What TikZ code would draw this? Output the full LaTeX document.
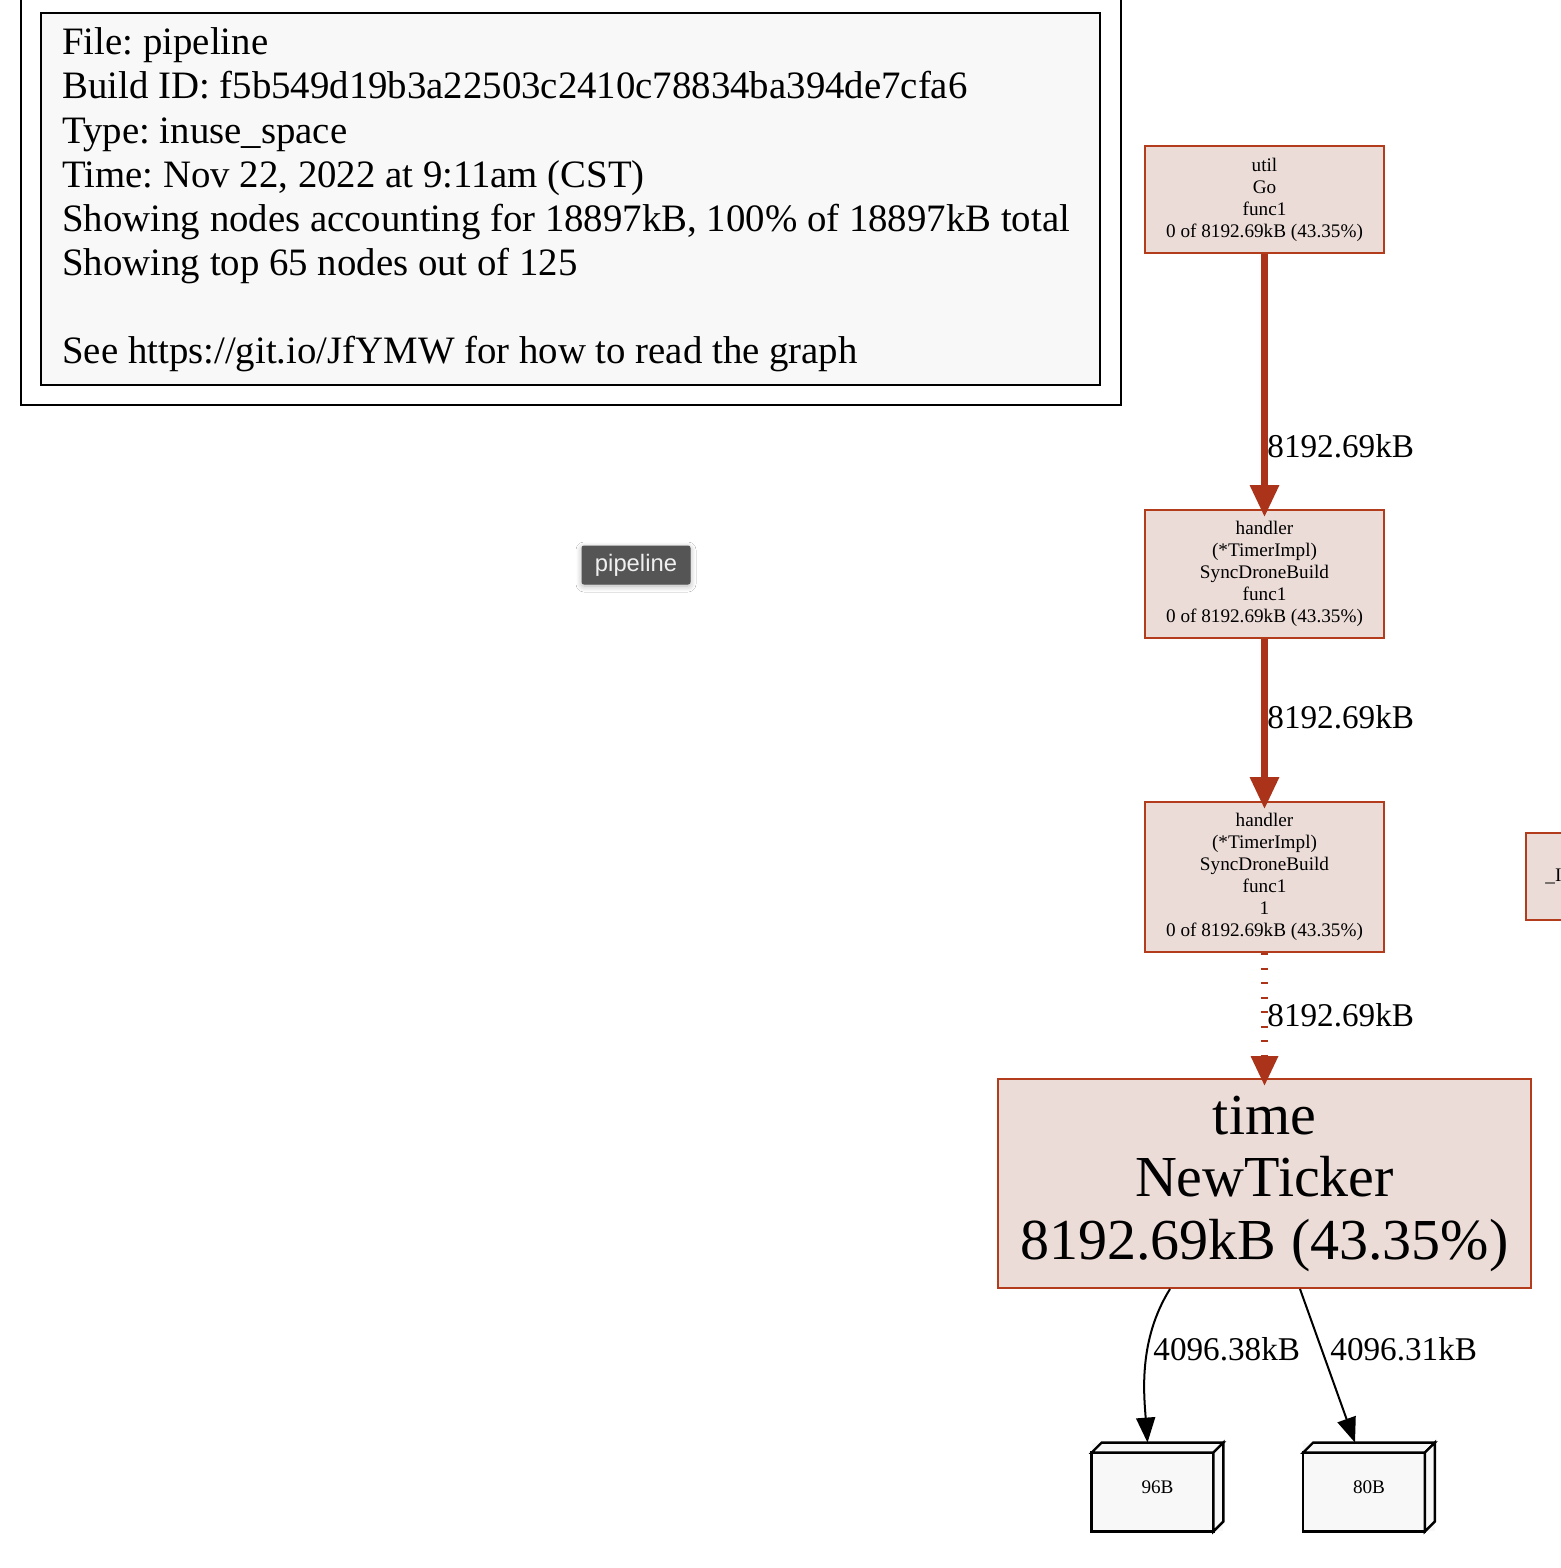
\documentclass[tikz,border=0pt]{standalone}
\usepackage{fontspec}
\setmainfont{Liberation Serif}
\newfontfamily\badgefont{Liberation Sans}
\usetikzlibrary{arrows.meta,calc,shadows.blur}
\frenchspacing
\definecolor{nodefill}{HTML}{EBDCD7}
\definecolor{nodeline}{HTML}{B23C1C}
\definecolor{edgered}{HTML}{AB331A}
\definecolor{boxfill}{HTML}{F8F8F8}
\definecolor{badgegray}{HTML}{555555}
\tikzset{
  fnode/.style={draw=nodeline, fill=nodefill, line width=1pt, inner sep=0pt,
    minimum width=119.5pt, align=center, font=\fontsize{9.6}{11}\selectfont},
  bignode/.style={draw=nodeline, fill=nodefill, line width=1pt, inner sep=0pt,
    minimum width=266.5pt, minimum height=104.5pt, align=center,
    font=\fontsize{29}{31.25}\selectfont},
  thickedge/.style={draw=edgered, line width=3.2pt, shorten >=-4pt,
    -{Triangle[length=16pt,width=14pt]}},
  dotedge/.style={draw=edgered, line width=3.2pt, dash pattern=on 1pt off 6.25pt,
    shorten >=-4pt, -{Triangle[length=15pt,width=13pt]}},
  thinedge/.style={draw=black, line width=1pt,
    -{Triangle[length=12.5pt,width=9.5pt]}},
  elabel/.style={anchor=west, inner sep=0pt, font=\fontsize{16.6}{18}\selectfont},
  legline/.style={anchor=base west, inner sep=0pt, font=\fontsize{19.4}{22}\selectfont},
  boxnode/.style={inner sep=0pt, minimum width=65.5pt, minimum height=44pt,
    font=\fontsize{9.6}{11}\selectfont},
  facestyle/.style={draw=black, fill=boxfill, line width=1.2pt, line join=miter},
}
\newcommand\drawthreedbox[1]{%
  \fill[boxfill] (#1.south west) rectangle (#1.north east);
  \draw[facestyle] (#1.south west) rectangle ($(#1.north east)+(-10,10)$);
  \draw[facestyle] ($(#1.north west)+(0,10)$) -- ($(#1.north west)+(10,0)$)
     -- (#1.north east) -- ($(#1.north east)+(-10,10)$) -- cycle;
  \draw[facestyle] ($(#1.north east)+(-10,10)$) -- (#1.north east)
     -- ($(#1.south east)+(0,-10)$) -- ($(#1.south east)+(-10,0)$) -- cycle;
}
\begin{document}
\begin{tikzpicture}[x=0.5pt,y=-0.5pt]
\useasboundingbox (0,0) rectangle (1560,1568);
\fill[white] (0,0) rectangle (1560,1568);

% legend
\draw[line width=1pt] (21,-10) rectangle (1121,405);
\draw[line width=1pt, fill=boxfill] (41,13) rectangle (1100,385);
\node[legline] (leg1) at (62,55) {File: pipeline};
\node[legline] (leg2) at (62,99) {Build ID: f5b549d19b3a22503c2410c78834ba394de7cfa6};
\node[legline] (leg3) at (62,143) {Type: inuse\_space};
\node[legline] (leg4) at (62,187) {Time: Nov 22, 2022 at 9:11am (CST)};
\node[legline] (leg5) at (62,231) {Showing nodes accounting for 18897kB, 100\% of 18897kB total};
\node[legline] (leg6) at (62,275) {Showing top 65 nodes out of 125};
\node[legline] (leg7) at (62,363) {See https://git.io/JfYMW for how to read the graph};

% badge
\node[fill=badgegray, draw=badgegray, line width=0.5pt, rounded corners=1pt,
  minimum width=54pt, minimum height=19pt, inner sep=0pt,
  text=white!94!black, font=\badgefont\fontsize{11.9}{13}\selectfont,
  blur shadow={shadow xshift=0pt, shadow yshift=-1pt, shadow blur steps=8,
    shadow blur radius=3pt, shadow opacity=30}]
  (badge) at (636,565) {pipeline};

% function nodes
\node[fnode, minimum height=53.5pt] (util) at (1264.5,199.5)
  {util\\Go\\func1\\0 of 8192.69kB (43.35\%)};
\node[fnode, minimum height=64pt] (h1) at (1264.5,574)
  {handler\\(*TimerImpl)\\SyncDroneBuild\\func1\\0 of 8192.69kB (43.35\%)};
\node[fnode, minimum height=75pt] (h2) at (1264.5,877)
  {handler\\(*TimerImpl)\\SyncDroneBuild\\func1\\1\\0 of 8192.69kB (43.35\%)};
\node[bignode] (time) at (1264.5,1183.5)
  {time\\NewTicker\\8192.69kB (43.35\%)};

% partial node at the right edge
\draw[draw=nodeline, fill=nodefill, line width=1pt] (1526,833) rectangle (1620,920);
\node[anchor=west, inner sep=0pt, font=\fontsize{9.6}{11}\selectfont] (part) at (1545,876) {\_I};

% boxes
\node[boxnode] (b96) at (1157.5,1487) {};
\drawthreedbox{b96}
\node[boxnode] (b96t) at (1157.5,1487) {96B};
\node[boxnode] (b80) at (1369,1487) {};
\drawthreedbox{b80}
\node[boxnode] (b80t) at (1369,1487) {80B};

% edges
\draw[thickedge] (util) -- (h1);
\draw[thickedge] (h1) -- (h2);
\draw[dotedge] (h2) -- (time);
\draw[thinedge] ($(time.south)+(-94.5,0)$) .. controls (1138,1340) and (1144,1395) .. ($(b96.north)+(-10,0)$);
\draw[thinedge] ($(time.south)+(35.5,0)$) -- ($(b80.north)+(-14,0)$);

% edge labels
\node[elabel] (l1) at (1267,446) {8192.69kB};
\node[elabel] (l2) at (1267,717) {8192.69kB};
\node[elabel] (l3) at (1267,1015) {8192.69kB};
\node[elabel] (l4) at (1153,1349) {4096.38kB};
\node[elabel] (l5) at (1330,1349) {4096.31kB};
\end{tikzpicture}
\end{document}
